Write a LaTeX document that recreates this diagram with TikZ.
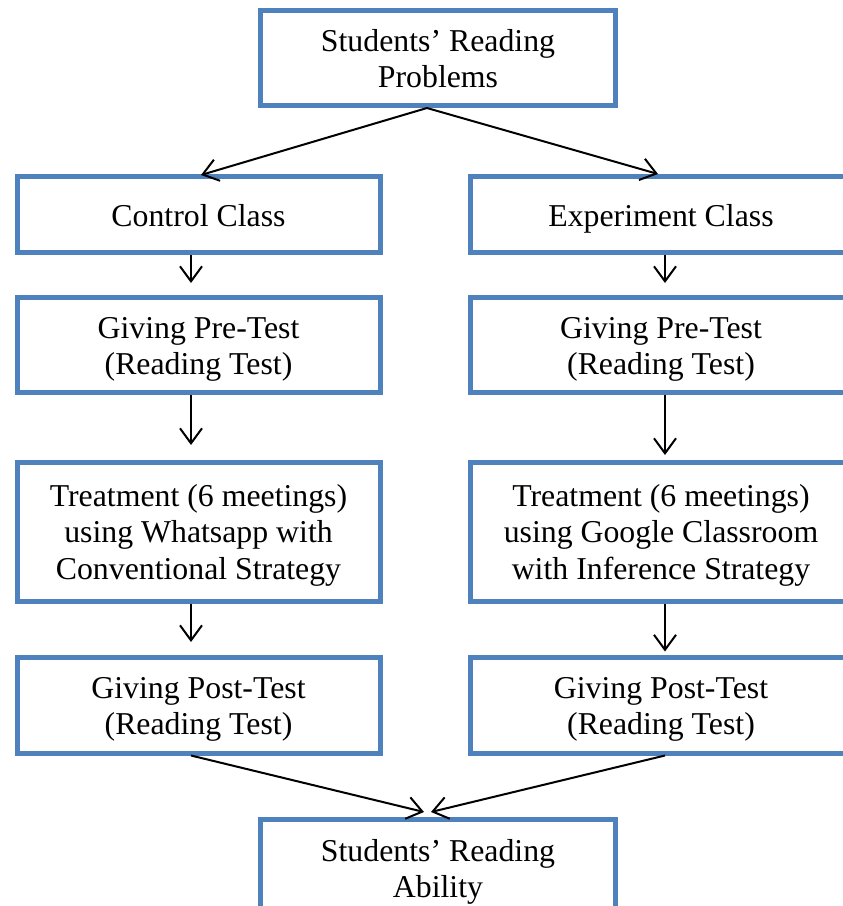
\documentclass[tikz,border=0pt]{standalone}
\usepackage{fontspec}
\setmainfont{Liberation Serif}
\usetikzlibrary{arrows.meta}
\definecolor{boxblue}{RGB}{79,129,189}
\tikzset{
  box/.style={draw=boxblue, line width=5pt, inner sep=0pt, align=center,
    font=\fontsize{31.8}{36.7}\selectfont, text=black},
  one/.style={text height=24.4pt, text depth=0pt},
  two/.style={text height=66.3pt, text depth=6.9pt},
  three/.style={text height=101.7pt, text depth=6.9pt},
  lbox/.style={box, minimum width=363pt},
  rbox/.style={box, minimum width=382pt},
  arr/.style={draw=black, line width=2pt,
    -{Straight Barb[length=15pt,width=22pt,line width=2pt]}},
}
\begin{document}
\begin{tikzpicture}[x=1pt,y=-1pt]
\useasboundingbox (0,0) rectangle (843,906);
\clip (0,0) rectangle (843,906);

\node[box, two, minimum width=355pt, minimum height=95pt] (top) at (438,58) {Students’ Reading\\Problems};

\node[lbox, one, minimum height=76pt] (ctrl) at (198.5,214.5) {Control Class};
\node[rbox, one, minimum height=76pt] (exp) at (661,214.5) {Experiment Class};

\node[lbox, two, minimum height=95pt] (pre1) at (198.5,345) {Giving Pre-Test\\(Reading Test)};
\node[rbox, two, minimum height=95pt] (pre2) at (661,345) {Giving Pre-Test\\(Reading Test)};

\node[lbox, three, minimum height=139pt] (treat1) at (198.5,532) {Treatment (6 meetings)\\using Whatsapp with\\Conventional Strategy};
\node[rbox, three, minimum height=139pt] (treat2) at (661,532) {Treatment (6 meetings)\\using Google Classroom\\with Inference Strategy};

\node[lbox, two, minimum height=96pt] (post1) at (198.5,705) {Giving Post-Test\\(Reading Test)};
\node[rbox, two, minimum height=96pt] (post2) at (661,705) {Giving Post-Test\\(Reading Test)};

\node[box, two, minimum width=355pt, minimum height=97pt] (bot) at (438,868) {Students’ Reading\\Ability};

% helper coordinates
\coordinate (s0) at (427,108);
\coordinate (tc) at (201,175);
\coordinate (te) at (658,174);
\coordinate (lx) at (191,0);
\coordinate (rx) at (665,0);
\coordinate (bl) at (424,812);
\coordinate (br) at (431,812);

\draw[arr] (s0) -- (tc);
\draw[arr] (s0) -- (te);

\draw[arr, shorten >=12pt] (ctrl.south -| lx) -- (pre1.north -| lx);
\draw[arr, shorten >=15pt] (pre1.south -| lx) -- (treat1.north -| lx);
\draw[arr, shorten >=12.5pt] (treat1.south -| lx) -- (post1.north -| lx);

\draw[arr, shorten >=12pt] (exp.south -| rx) -- (pre2.north -| rx);
\draw[arr, shorten >=5pt] (pre2.south -| rx) -- (treat2.north -| rx);
\draw[arr, shorten >=3pt] (treat2.south -| rx) -- (post2.north -| rx);

\draw[arr] (post1.south -| lx) -- (bl);
\draw[arr] (post2.south -| rx) -- (br);
\end{tikzpicture}
\end{document}
